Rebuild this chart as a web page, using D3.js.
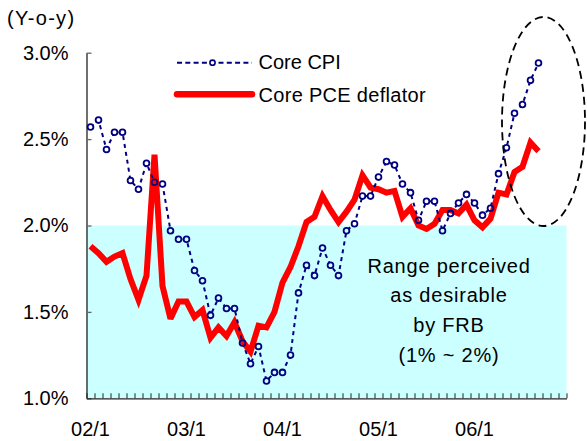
<!DOCTYPE html>
<html>
<head>
<meta charset="utf-8">
<script src="https://cdn.jsdelivr.net/npm/d3@7"></script>
<style>
  html, body { margin: 0; padding: 0; background: #fff; }
  svg text { font-family: "Liberation Sans", Arial, sans-serif; fill: #000; }
</style>
</head>
<body>
<svg id="chart" width="587" height="441"></svg>
<script>
// ---- categories: monthly, Jan 2002 .. Dec 2006 ----
const years = [2002, 2003, 2004, 2005, 2006];
const months = [];
years.forEach(yr => { for (let m = 1; m <= 12; m++) months.push(String(yr).slice(2) + "/" + m); });
const xTickLabels = ["02/1", "03/1", "04/1", "05/1", "06/1"];
const yTicks = [1.0, 1.5, 2.0, 2.5, 3.0];

// ---- series (Y-o-y %), Jan 2002 .. Sep 2006 ----
const coreCPI = [
  2.57, 2.61, 2.44, 2.54, 2.54, 2.26, 2.21, 2.36, 2.25, 2.24, 1.97, 1.92,
  1.92, 1.74, 1.68, 1.48, 1.58, 1.52, 1.52, 1.32, 1.20, 1.30, 1.10, 1.15,
  1.15, 1.25, 1.61, 1.77, 1.71, 1.87, 1.77, 1.71, 1.97, 2.01, 2.17, 2.17,
  2.28, 2.37, 2.35, 2.24, 2.19, 2.03, 2.14, 2.14, 1.97, 2.07, 2.13, 2.18,
  2.13, 2.06, 2.10, 2.30, 2.45, 2.65, 2.70, 2.84, 2.94
];
const corePCE = [
  1.88, 1.84, 1.79, 1.82, 1.84, 1.69, 1.57, 1.71, 2.41, 1.65, 1.46, 1.56,
  1.56, 1.47, 1.51, 1.35, 1.41, 1.36, 1.44, 1.33, 1.27, 1.42, 1.41, 1.50,
  1.67, 1.76, 1.88, 2.02, 2.05, 2.17, 2.09, 2.02, 2.08, 2.15, 2.29, 2.22,
  2.21, 2.19, 2.20, 2.05, 2.10, 2.00, 1.98, 2.01, 2.09, 2.09, 2.07, 2.12,
  2.03, 1.99, 2.04, 2.19, 2.18, 2.31, 2.34, 2.48, 2.43
];
const seriesNames = ["Core CPI", "Core PCE deflator"];
const bandText = ["Range perceived", "as desirable", "by FRB", "(1% ~ 2%)"];
const bandRange = [1.0, 2.0];

(function () {
const svg = d3.select("#chart");
const pL = 86.5, pR = 566.5, pT = 52.7, pB = 398.3;

const x = d3.scaleBand().domain(months).range([pL, pR]).padding(0);
const xIdx = d3.scaleLinear().domain([0, months.length]).range([pL, pR]);
const y = d3.scaleLinear().domain([1.0, 3.0]).range([pB, pT]);
const cx = i => x(months[i]) + x.bandwidth() / 2;

// desirable band
svg.append("rect")
  .attr("x", pL).attr("y", y(bandRange[1]))
  .attr("width", pR - pL).attr("height", y(bandRange[0]) - y(bandRange[1]))
  .attr("fill", "#CCFFFF");

// band text
const bt = svg.append("text").attr("text-anchor", "middle").attr("font-size", 20)
  .attr("letter-spacing", 0.8);
bandText.forEach((t, i) => {
  bt.append("tspan").attr("x", 449).attr("y", 272.5 + i * 29.7).text(t);
});

// axes
const yAxis = d3.axisLeft(y).tickValues(yTicks)
  .tickFormat(d => d3.format(".1f")(d) + "%")
  .tickSizeInner(-5).tickSizeOuter(0).tickPadding(18);
const gy = svg.append("g").attr("transform", `translate(${pL},0)`).call(yAxis);
gy.selectAll("text").attr("font-size", 20).attr("font-family", "Liberation Sans, Arial, sans-serif");
gy.select(".domain").attr("stroke", "#222").attr("stroke-width", 1.3);
gy.selectAll(".tick line").attr("stroke", "#666").attr("stroke-width", 1.3);

const xMinor = d3.axisBottom(xIdx).tickValues(d3.range(0, months.length + 1))
  .tickFormat("").tickSizeInner(-5).tickSizeOuter(0);
const gx = svg.append("g").attr("transform", `translate(0,${pB})`).call(xMinor);
gx.select(".domain").attr("stroke", "#222").attr("stroke-width", 1.3);
gx.selectAll(".tick line").attr("stroke", "#222").attr("stroke-width", 1);

const xLab = d3.axisBottom(x).tickValues(xTickLabels).tickSize(0).tickPadding(24);
const gxl = svg.append("g").attr("transform", `translate(0,${pB})`).call(xLab);
gxl.select(".domain").remove();
gxl.selectAll("text").attr("font-size", 20).attr("font-family", "Liberation Sans, Arial, sans-serif");

// y unit label
svg.append("text").attr("x", 7).attr("y", 25).attr("font-size", 20)
  .attr("letter-spacing", 1.3).text("(Y-o-y)");

// mask so the dashed line does not show inside the markers
const defs = svg.append("defs");
const mask = defs.append("mask").attr("id", "cpiMask").attr("maskUnits", "userSpaceOnUse")
  .attr("x", 0).attr("y", 0).attr("width", 587).attr("height", 441);
mask.append("rect").attr("width", 587).attr("height", 441).attr("fill", "#fff");
mask.selectAll("circle").data(coreCPI).join("circle")
  .attr("cx", (d, i) => cx(i)).attr("cy", d => y(d)).attr("r", 2.2).attr("fill", "#000");

// Core PCE line
const line = d3.line().x((d, i) => cx(i)).y(d => y(d));
svg.append("path").datum(corePCE).attr("d", line)
  .attr("fill", "none").attr("stroke", "#FF0000").attr("stroke-width", 6)
  .attr("stroke-linejoin", "miter").attr("stroke-miterlimit", 3);

// Core CPI dashed line + markers
svg.append("path").datum(coreCPI).attr("d", line)
  .attr("fill", "none").attr("stroke", "#000080").attr("stroke-width", 2)
  .attr("stroke-dasharray", "4,4").attr("mask", "url(#cpiMask)");
svg.selectAll("circle.cpi").data(coreCPI).join("circle").attr("class", "cpi")
  .attr("cx", (d, i) => cx(i)).attr("cy", d => y(d)).attr("r", 2.9)
  .attr("fill", "none").attr("stroke", "#000080").attr("stroke-width", 1.8);

// legend
const lg = svg.append("g");
lg.append("line").attr("x1", 177).attr("x2", 252).attr("y1", 62.7).attr("y2", 62.7)
  .attr("stroke", "#000080").attr("stroke-width", 2).attr("stroke-dasharray", "5,3.3");
lg.append("circle").attr("cx", 212.5).attr("cy", 62.7).attr("r", 4.5).attr("fill", "#fff");
lg.append("circle").attr("cx", 212.5).attr("cy", 62.7).attr("r", 2.6)
  .attr("fill", "none").attr("stroke", "#000080").attr("stroke-width", 1.6);
lg.append("line").attr("x1", 177).attr("x2", 252).attr("y1", 94.3).attr("y2", 94.3)
  .attr("stroke", "#FF0000").attr("stroke-width", 6.5).attr("stroke-linecap", "round");
lg.append("text").attr("x", 258.5).attr("y", 68.5).attr("font-size", 20).text(seriesNames[0]);
lg.append("text").attr("x", 258.5).attr("y", 101.7).attr("font-size", 20)
  .attr("letter-spacing", 0.3).text(seriesNames[1]);

// dashed ellipse highlighting recent months
svg.append("ellipse").attr("cx", 543.5).attr("cy", 121.5).attr("rx", 41.5).attr("ry", 104.5)
  .attr("fill", "none").attr("stroke", "#000").attr("stroke-width", 1.8)
  .attr("stroke-dasharray", "8,5");
})();
</script>
</body>
</html>
